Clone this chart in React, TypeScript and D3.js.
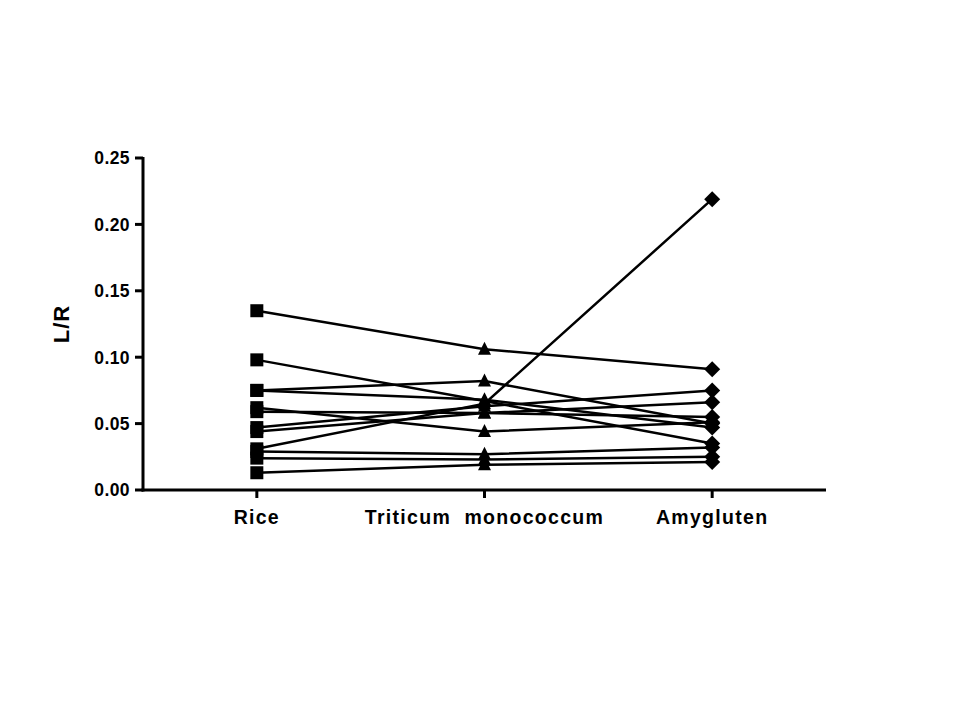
import React from "react";
import * as d3 from "d3";

const categories = ["Rice", "Triticum  monococcum", "Amygluten"];
const yTicks = [0, 0.05, 0.1, 0.15, 0.2, 0.25];

const rice = [0.135, 0.098, 0.075, 0.075, 0.062, 0.059, 0.047, 0.044, 0.031, 0.029, 0.024, 0.013];
const triticum = [0.106, 0.067, 0.082, 0.068, 0.044, 0.058, 0.063, 0.058, 0.065, 0.027, 0.023, 0.019];
const amygluten = [0.091, 0.035, 0.050, 0.047, 0.051, 0.055, 0.075, 0.066, 0.219, 0.032, 0.025, 0.021];

const W = 960;
const H = 720;
const left = 143;
const right = 826;
const top = 158;
const bottom = 490;
const FONT = "'Liberation Sans', Arial, sans-serif";

export default function App() {
  const x = d3.scalePoint<string>().domain(categories).range([left, right]).padding(0.5);
  const y = d3.scaleLinear().domain([0, 0.25]).range([bottom, top]);
  const line = d3.line<[number, number]>().x((d) => d[0]).y((d) => d[1]);

  const subjects = rice.map((r, i) => [r, triticum[i], amygluten[i]]);

  const square = "M-6.5,-6.5H6.5V6.5H-6.5Z";
  const tri = "M0,-7.5L6.5,5.5L-6.5,5.5Z";
  const diamond = "M0,-8L8,0L0,8L-8,0Z";
  const shapes = [square, tri, diamond];

  return (
    <svg width={W} height={H} style={{ position: "absolute", left: 0, top: 0, background: "#fff" }}>
      <rect width={W} height={H} fill="#fff" />
      {subjects.map((s, i) => (
        <path
          key={"l" + i}
          d={line(s.map((v, j) => [x(categories[j]) as number, y(v)]) as [number, number][]) || ""}
          fill="none"
          stroke="#000"
          strokeWidth={2.5}
        />
      ))}
      {subjects.map((s, i) =>
        s.map((v, j) => (
          <path
            key={"m" + i + "-" + j}
            d={shapes[j]}
            transform={`translate(${x(categories[j])},${y(v)})`}
            fill="#000"
          />
        ))
      )}
      <line x1={left} x2={left} y1={top - 1} y2={bottom + 1.5} stroke="#000" strokeWidth={3} />
      {yTicks.map((t) => (
        <g key={"yt" + t}>
          <line x1={left - 8} x2={left} y1={y(t)} y2={y(t)} stroke="#000" strokeWidth={3} />
          <text
            x={left - 13}
            y={y(t)}
            dy="0.36em"
            textAnchor="end"
            fontFamily={FONT}
            fontWeight="bold"
            fontSize={17.5}
            letterSpacing={0.4}
          >
            {t.toFixed(2)}
          </text>
        </g>
      ))}
      <line x1={left - 1.5} x2={right} y1={bottom} y2={bottom} stroke="#000" strokeWidth={3} />
      {categories.map((c) => (
        <g key={"xt" + c}>
          <line x1={x(c)} x2={x(c)} y1={bottom} y2={bottom + 8} stroke="#000" strokeWidth={3} />
          <text
            x={x(c)}
            y={524}
            textAnchor="middle"
            fontFamily={FONT}
            fontWeight="bold"
            fontSize={19.5}
            letterSpacing={1.3}
            style={{ whiteSpace: "pre" }}
          >
            {c}
          </text>
        </g>
      ))}
      <text
        transform={`translate(69,324) rotate(-90)`}
        textAnchor="middle"
        fontFamily={FONT}
        fontWeight="bold"
        fontSize={22}
        letterSpacing={1}
      >
        L/R
      </text>
    </svg>
  );
}
